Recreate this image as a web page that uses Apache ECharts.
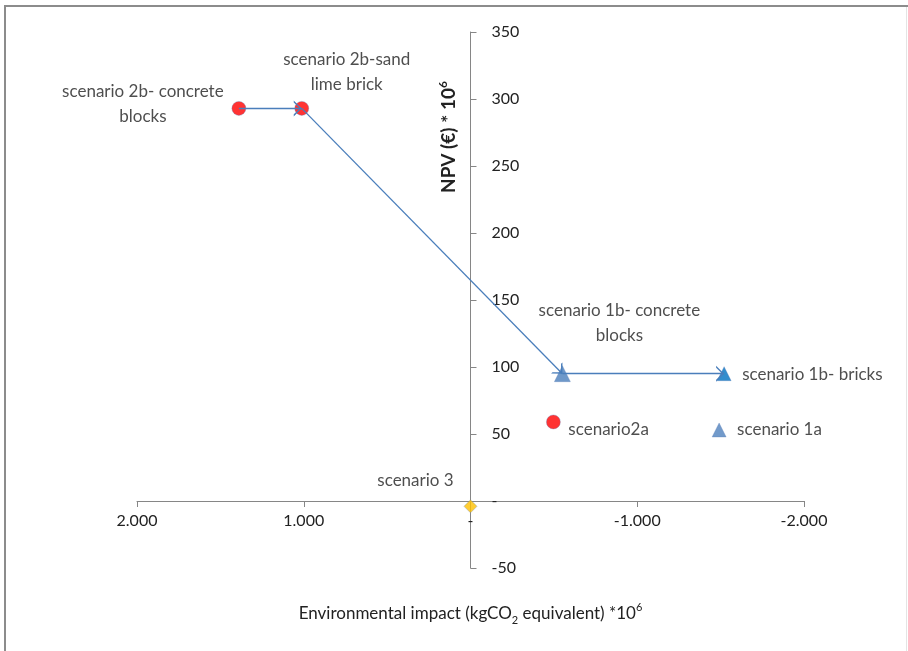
<!DOCTYPE html>
<html>
<head>
<meta charset="utf-8">
<script src="https://cdn.jsdelivr.net/npm/echarts@6/dist/echarts.min.js"></script>
<style>
  html, body { margin: 0; padding: 0; background: #fff; }
  #chart { width: 908px; height: 651px; }
</style>
</head>
<body>
<div id="chart"></div>
<script>
// scenario data
const scenarioNames = [
  'scenario 2b- concrete\nblocks',
  'scenario 2b-sand\nlime brick',
  'scenario 1b- concrete\nblocks',
  'scenario 1b- bricks',
  'scenario2a',
  'scenario 1a',
  'scenario 3'
];
const impactValues = [1.389, 1.012, -0.551, -1.521, -0.497, -1.491, 0];
const npvValues = [293, 293, 95, 95, 59, 53, -4];
// order of the arrows (indices into the scenarios)
const arrowPath = [0, 1, 2, 3];

const xTickValues = [2, 1, 0, -1, -2];
const xTickLabels = ['2.000', '1.000', '-', '-1.000', '-2.000'];
const yTickValues = [350, 300, 250, 200, 150, 100, 50, 0, -50];
const yTickLabels = ['350', '300', '250', '200', '150', '100', '50', '-', '-50'];

// marker / label look per scenario
const markerStyles = [
  { symbol: 'circle', size: 14, color: '#ff0000' },
  { symbol: 'circle', size: 14, color: '#ff0000' },
  { symbol: 'triangle', size: 16, color: '#4a7ebb' },
  { symbol: 'triangle', size: 14, color: '#0070c0' },
  { symbol: 'circle', size: 14, color: '#ff0000' },
  { symbol: 'triangle', size: 14, color: '#4f81bd' },
  { symbol: 'diamond', size: 13, color: '#ffc000' }
];
const labelPlacement = [
  { align: 'center', offset: [-96, -4] },
  { align: 'center', offset: [45, -36] },
  { align: 'center', offset: [57, -51] },
  { align: 'left', offset: [18, 1] },
  { align: 'left', offset: [15, 8] },
  { align: 'left', offset: [18, 0] },
  { align: 'center', offset: [-55, -26] }
];

const FONT = 'Lato';
const TEXT = '#222';
const AXIS = '#868686';
const ARROW = '#4a7ebb';
// open arrow head; the tip sits at the centre of the symbol box
const ARROW_HEAD = 'path://M0,-8 L0,-8 M0,0 L5.5,8 L4.1,8 L0,1.9 L-4.1,8 L-5.5,8 Z';

// grid box in pixels; axes are shifted to cross at zero
const GRID = { left: 137, right: 104, top: 32, bottom: 83 };
const PLOT_W = 908 - GRID.left - GRID.right;
const PLOT_H = 651 - GRID.top - GRID.bottom;

const chart = echarts.init(document.getElementById('chart'), null, { renderer: 'canvas' });

let arrowData = [];
for (let i = 0; i < arrowPath.length - 1; i++) {
  let a = arrowPath[i], b = arrowPath[i + 1];
  arrowData.push({
    coords: [[impactValues[a], npvValues[a]], [impactValues[b], npvValues[b]]]
  });
}

let scatterData = scenarioNames.map((name, i) => {
  let m = markerStyles[i], l = labelPlacement[i];
  return {
    name: name,
    value: [impactValues[i], npvValues[i]],
    symbol: m.symbol,
    symbolSize: m.size,
    itemStyle: {
      color: m.color,
      borderColor: '#5a7fb8',
      borderWidth: 0.4
    },
    label: {
      show: true,
      position: 'inside',
      align: l.align,
      verticalAlign: 'middle',
      offset: l.offset,
      formatter: '{b}'
    }
  };
});

const xMin = -2, xMax = 2, yMin = -50, yMax = 350;
// distance of the zero lines from the grid edges
const xAxisOffset = -PLOT_H * (0 - yMin) / (yMax - yMin);
const yAxisOffset = -PLOT_W * (xMax - 0) / (xMax - xMin);

let option = {
  backgroundColor: '#fff',
  animation: false,
  grid: Object.assign({ containLabel: false, outerBoundsMode: 'none' }, GRID),
  xAxis: {
    type: 'value',
    inverse: true,
    min: xMin,
    max: xMax,
    interval: 1,
    position: 'bottom',
    offset: xAxisOffset,
    name: 'Environmental impact (kgCO{sub|2} equivalent) *10{sup|6}',
    nameLocation: 'middle',
    nameGap: 101,
    nameTextStyle: {
      fontFamily: FONT,
      fontSize: 17,
      color: TEXT,
      rich: {
        sub: { fontFamily: FONT, fontSize: 11, color: TEXT, verticalAlign: 'bottom', lineHeight: 24 },
        sup: { fontFamily: FONT, fontSize: 11, color: TEXT, verticalAlign: 'top', lineHeight: 24 }
      }
    },
    axisLine: { onZero: false, lineStyle: { color: AXIS, width: 1 } },
    axisTick: { show: true, length: 6, lineStyle: { color: AXIS } },
    splitLine: { show: false },
    axisLabel: {
      fontFamily: FONT,
      fontSize: 16,
      color: TEXT,
      margin: 12,
      showMinLabel: true,
      showMaxLabel: true,
      formatter: function (value) {
        let idx = xTickValues.indexOf(value);
        return idx >= 0 ? xTickLabels[idx] : '';
      }
    }
  },
  yAxis: {
    type: 'value',
    min: yMin,
    max: yMax,
    interval: 50,
    position: 'left',
    offset: yAxisOffset,
    axisLine: { onZero: false, lineStyle: { color: AXIS, width: 1 } },
    axisTick: { show: true, inside: true, length: 6, lineStyle: { color: AXIS } },
    splitLine: { show: false },
    axisLabel: {
      inside: true,
      fontFamily: FONT,
      fontSize: 16,
      color: TEXT,
      margin: 21,
      showMinLabel: true,
      showMaxLabel: true,
      formatter: function (value) {
        let idx = yTickValues.indexOf(value);
        return idx >= 0 ? yTickLabels[idx] : '';
      }
    }
  },
  graphic: [
    {
      type: 'text',
      x: 449,
      y: 137,
      rotation: Math.PI / 2,
      style: {
        text: 'NPV (€) * 10{sup|6}',
        fontFamily: FONT,
        fontSize: 19,
        fontWeight: 'bold',
        fill: TEXT,
        align: 'center',
        verticalAlign: 'middle',
        rich: {
          sup: { fontFamily: FONT, fontSize: 12, fontWeight: 'bold', fill: TEXT, verticalAlign: 'top', lineHeight: 24 }
        }
      }
    },
    // picture frame
    { type: 'rect', shape: { x: 4, y: 5, width: 2, height: 646 }, style: { fill: '#8c8c8c' } },
    { type: 'rect', shape: { x: 4, y: 5, width: 904, height: 2 }, style: { fill: '#8c8c8c' } },
    { type: 'rect', shape: { x: 906, y: 7, width: 1, height: 644 }, style: { fill: '#e4e4e4' } }
  ],
  series: [
    {
      type: 'scatter',
      z: 3,
      label: {
        fontFamily: FONT,
        fontSize: 17,
        lineHeight: 25,
        color: TEXT
      },
      data: scatterData
    },
    {
      type: 'lines',
      coordinateSystem: 'cartesian2d',
      z: 4,
      symbol: ['none', ARROW_HEAD],
      symbolSize: [11, 16],
      lineStyle: { color: ARROW, width: 1.3, opacity: 1 },
      data: arrowData
    }
  ]
};

chart.setOption(option);
</script>
</body>
</html>
